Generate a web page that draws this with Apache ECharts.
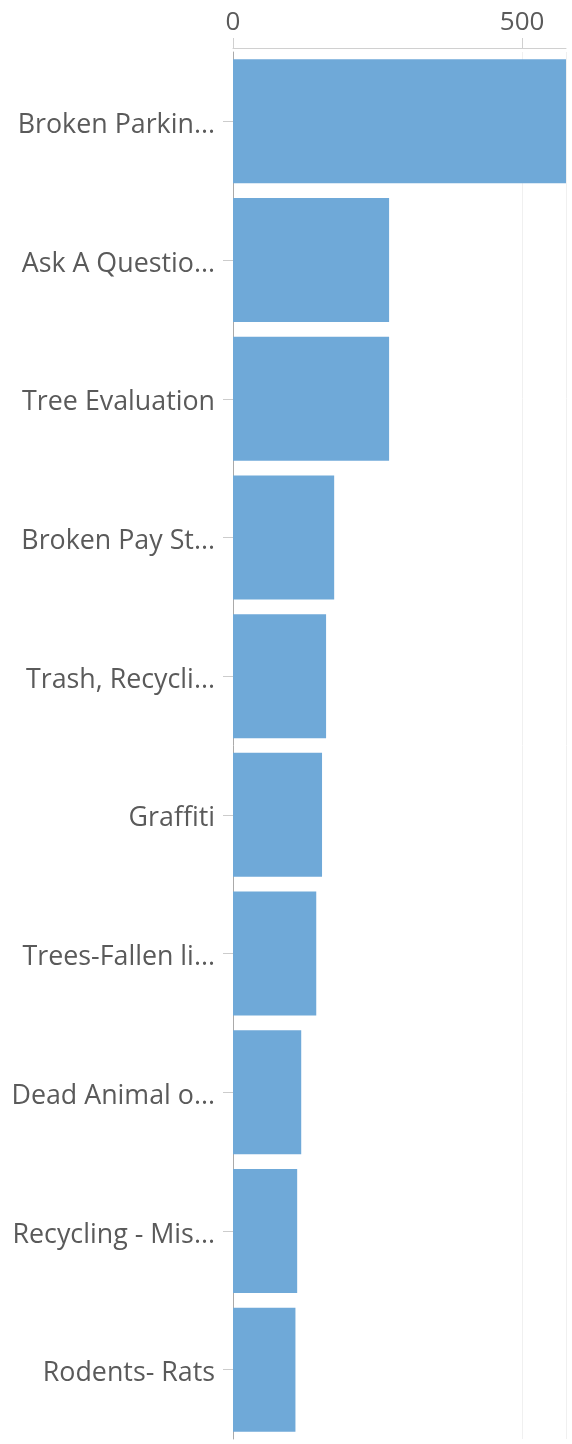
<!DOCTYPE html>
<html>
<head>
<meta charset="utf-8">
<script src="https://cdn.jsdelivr.net/npm/echarts@6/dist/echarts.min.js"></script>
<style>
  html, body { margin: 0; padding: 0; background: #fff; }
  #chart { width: 572px; height: 1444px; }
</style>
</head>
<body>
<div id="chart"></div>
<script>
// categories as shown (already truncated in the source chart)
const categories = [
  'Broken Parkin...',
  'Ask A Questio...',
  'Tree Evaluation',
  'Broken Pay St...',
  'Trash, Recycli...',
  'Graffiti',
  'Trees-Fallen li...',
  'Dead Animal o...',
  'Recycling - Mis...',
  'Rodents- Rats'
];
const counts = [600, 270, 270, 175, 161, 154, 144, 118, 111, 108];
const axisMax = 576;

const myChart = echarts.init(document.getElementById('chart'));

const option = {
  animation: false,
  textStyle: { fontFamily: 'Open Sans' },
  grid: {
    left: 233,
    right: 6,
    top: 52,
    bottom: 5
  },
  xAxis: {
    type: 'value',
    position: 'top',
    offset: 4,
    min: 0,
    max: axisMax,
    interval: 500,
    axisLine: { show: true, lineStyle: { color: '#d0d0d0', width: 1 } },
    axisTick: { show: true, length: 10, lineStyle: { color: '#d0d0d0' } },
    axisLabel: {
      showMaxLabel: false,
      margin: 12,
      fontSize: 26,
      color: '#5a5a5a',
      fontFamily: 'Open Sans'
    },
    splitLine: { show: true, lineStyle: { color: '#f0f0f0' } }
  },
  yAxis: {
    type: 'category',
    data: categories,
    inverse: true,
    axisLine: { show: true, lineStyle: { color: '#aaaaaa', width: 1 } },
    axisTick: { show: true, alignWithLabel: true, length: 10, lineStyle: { color: '#cccccc' } },
    axisLabel: {
      margin: 18,
      fontSize: 26.8,
      color: '#5a5a5a',
      fontFamily: 'Open Sans',
      verticalAlign: 'top',
      lineHeight: 8
    }
  },
  series: [
    {
      type: 'bar',
      data: counts,
      clip: true,
      barCategoryGap: '10.6%',
      itemStyle: { color: '#6fa9d8' }
    }
  ]
};

myChart.setOption(option);
</script>
</body>
</html>
